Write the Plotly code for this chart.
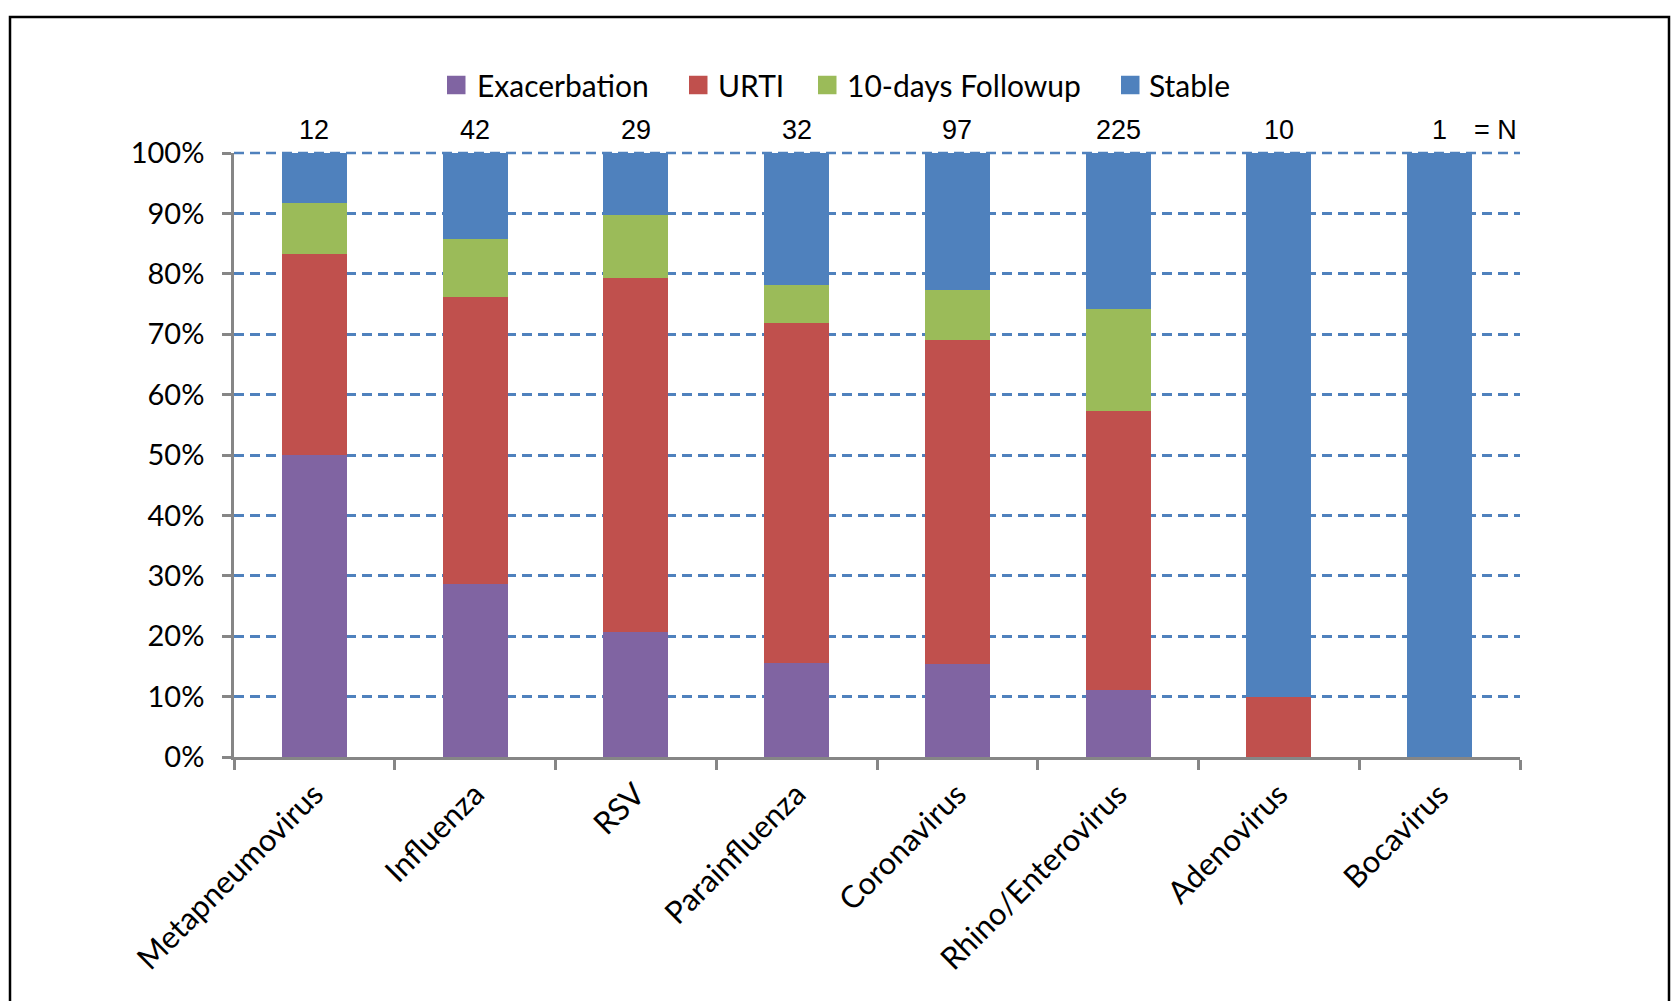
import plotly.graph_objects as go

# Virus categories and patient counts per outcome group
categories = ["Metapneumovirus", "Influenza", "RSV", "Parainfluenza",
              "Coronavirus", "Rhino/Enterovirus", "Adenovirus", "Bocavirus"]
n_totals = [12, 42, 29, 32, 97, 225, 10, 1]

exacerbation = [6, 12, 6, 5, 15, 25, 0, 0]
urti = [4, 20, 17, 18, 52, 104, 1, 0]
followup_10d = [1, 4, 3, 2, 8, 38, 0, 0]
stable = [1, 6, 3, 7, 22, 58, 9, 1]

y_ticks = list(range(0, 101, 10))
y_ticktext = [f"{v}%" for v in y_ticks]

series = [
    ("Exacerbation", exacerbation, "#8064A2"),
    ("URTI", urti, "#C0504D"),
    ("10-days Followup", followup_10d, "#9BBB59"),
    ("Stable", stable, "#4F81BD"),
]

W, H = 1674, 1001
L, R, T, B = 234, 154, 153, 244
pw, ph = W - L - R, H - T - B

FONT = "Lato"
GRID_BLUE = "#4F81BD"
AXIS_GREY = "#868686"


def px_x(px):
    return (px - L) / pw


def px_y(py):
    return 1 + (T - py) / ph


fig = go.Figure()
for name, vals, color in series:
    fig.add_trace(go.Bar(
        name=name, x=categories, y=vals, showlegend=False,
        marker=dict(color=color, line=dict(width=0)),
    ))

annotations = []
shapes = []

# N labels above each stacked bar
for cat, n in zip(categories, n_totals):
    annotations.append(dict(
        x=cat, y=px_y(130), xref="x", yref="paper",
        text=str(n), showarrow=False, xanchor="center", yanchor="middle",
        font=dict(family="Liberation Sans", size=27, color="black"),
    ))
annotations.append(dict(
    x=px_x(1495), y=px_y(130), xref="paper", yref="paper",
    text="= N", showarrow=False, xanchor="center", yanchor="middle",
    font=dict(family="Liberation Sans", size=27, color="black"),
))

# Legend row: square swatch followed by label
legend_pos = [(447, 475), (689, 716), (818, 845), (1121, 1147)]
sw = 18.5
legend_y = 85
for (name, _, color), (sx, tx) in zip(series, legend_pos):
    shapes.append(dict(
        type="rect", xref="paper", yref="paper",
        x0=px_x(sx), x1=px_x(sx + sw),
        y0=px_y(legend_y + sw / 2), y1=px_y(legend_y - sw / 2),
        fillcolor=color, line=dict(width=0),
    ))
    annotations.append(dict(
        x=px_x(tx), y=px_y(legend_y), xref="paper", yref="paper",
        text=name, showarrow=False, xanchor="left", yanchor="middle",
        font=dict(family=FONT, size=30, color="black"),
    ))

# Dashed gridline along the 100% edge
shapes.append(dict(
    type="line", xref="paper", yref="paper", x0=0, x1=1, y0=1, y1=1,
    line=dict(color=GRID_BLUE, width=2.5, dash="10px,6px"), layer="below",
))

# Outer chart border
shapes.append(dict(
    type="rect", xref="paper", yref="paper",
    x0=px_x(10), x1=px_x(1669), y0=px_y(H + 20), y1=px_y(17),
    line=dict(color="black", width=2.5), fillcolor="rgba(0,0,0,0)",
    layer="below",
))

fig.update_layout(
    width=W, height=H,
    margin=dict(l=L, r=R, t=T, b=B, pad=0),
    barmode="stack", barnorm="percent", bargap=0.595,
    plot_bgcolor="white", paper_bgcolor="white",
    font=dict(family=FONT, size=30, color="black"),
    showlegend=False,
    annotations=annotations,
    shapes=shapes,
)

fig.update_yaxes(
    range=[0, 100], tickvals=y_ticks, ticktext=y_ticktext,
    showgrid=True, gridcolor=GRID_BLUE, gridwidth=2.5, griddash="10px,6px",
    showline=True, linecolor=AXIS_GREY, linewidth=2.5,
    ticks="outside", ticklen=9, tickcolor=AXIS_GREY, tickwidth=2.5,
    ticklabelstandoff=12, zeroline=False,
    tickfont=dict(family=FONT, size=29, color="black"),
)
fig.update_xaxes(
    tickangle=-45, tickson="boundaries",
    showline=True, linecolor=AXIS_GREY, linewidth=2.5,
    ticks="outside", ticklen=10, tickcolor=AXIS_GREY, tickwidth=2.5,
    ticklabelstandoff=4,
    tickfont=dict(family=FONT, size=31, color="black"),
)

fig.write_html("out.html")
